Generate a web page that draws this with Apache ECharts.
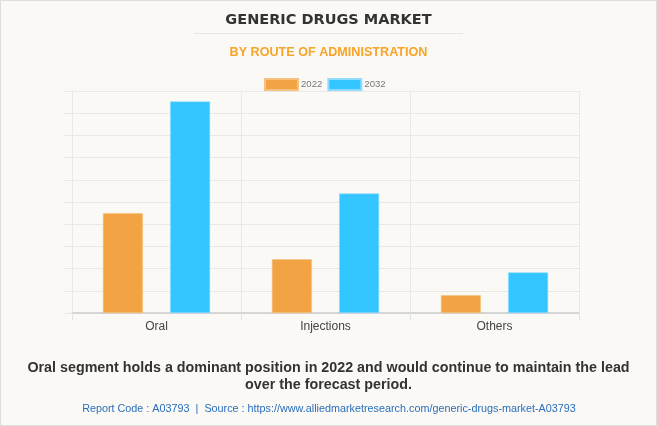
<!DOCTYPE html>
<html><head><meta charset="utf-8">
<script src="https://cdn.jsdelivr.net/npm/echarts@6/dist/echarts.min.js"></script>
<style>html,body{margin:0;padding:0;background:#faf9f5;}#c{width:657px;height:426px;}</style>
</head><body><div id="c"></div>
<script>
const categories = ['Oral', 'Injections', 'Others'];
const values2022 = [4.5, 2.42, 0.8];
const values2032 = [9.53, 5.38, 1.83];
const seriesNames = ['2022', '2032'];

const chart = echarts.init(document.getElementById('c'));
chart.setOption({
  backgroundColor: '#faf9f5',
  animation: false,
  title: [
    {text: 'GENERIC DRUGS MARKET', left: 'center', top: 8,
     textStyle: {fontFamily: 'DejaVu Sans', fontWeight: 'bold', fontSize: 14.5, color: '#333'}},
    {text: 'BY ROUTE OF ADMINISTRATION', left: 'center', top: 41,
     textStyle: {fontFamily: 'Liberation Sans', fontWeight: 'bold', fontSize: 12.6, color: '#f7a428'}}
  ],
  graphic: [
    {type: 'line', shape: {x1: 194, y1: 33.5, x2: 463, y2: 33.5}, style: {stroke: '#e6e6e6', lineWidth: 1}},
    {type: 'rect', shape: {x: 0.5, y: 0.5, width: 656, height: 425}, style: {fill: 'none', stroke: '#dddddd', lineWidth: 1}},
    {type: 'text', x: 328.5, y: 368, style: {text: 'Oral segment holds a dominant position in 2022 and would continue to maintain the lead',
      align: 'center', verticalAlign: 'middle', font: 'bold 14.3px "Liberation Sans"', fill: '#333'}},
    {type: 'text', x: 328.5, y: 385, style: {text: 'over the forecast period.',
      align: 'center', verticalAlign: 'middle', font: 'bold 14.3px "Liberation Sans"', fill: '#333'}},
    {type: 'text', x: 329, y: 409, style: {text: 'Report Code : A03793  |  Source : https://www.alliedmarketresearch.com/generic-drugs-market-A03793',
      align: 'center', verticalAlign: 'middle', font: '10.8px "Liberation Sans"', fill: '#2a6ebb'}}
  ],
  legend: {
    top: 73, left: 259, icon: 'rect', itemWidth: 33, itemHeight: 11, itemGap: 5,
    textStyle: {fontFamily: 'Liberation Sans', fontSize: 9.6, color: '#777', padding: [0, 0, 0, -2]},
    data: seriesNames
  },
  grid: {left: 72, right: 78, top: 91, bottom: 113},
  xAxis: {
    type: 'category', data: categories,
    axisLine: {lineStyle: {color: '#cccccc', width: 1.5}},
    axisTick: {show: true, length: 7, lineStyle: {color: '#e3e3e3'}},
    splitLine: {show: true, lineStyle: {color: '#e8e8e8'}},
    axisLabel: {fontFamily: 'Liberation Sans', fontSize: 12, color: '#444', margin: 8}
  },
  yAxis: {
    type: 'value', min: 0, max: 10, interval: 1,
    axisLabel: {show: false},
    axisLine: {show: false},
    axisTick: {show: true, length: 8, lineStyle: {color: '#e8e8e8'}},
    splitLine: {lineStyle: {color: '#e8e8e8'}}
  },
  series: [
    {name: seriesNames[0], type: 'bar', data: values2022, barWidth: 40, barGap: '68%',
     itemStyle: {color: '#f2a444', borderColor: '#f7c27f', borderWidth: 0.6}},
    {name: seriesNames[1], type: 'bar', data: values2032, barWidth: 40,
     itemStyle: {color: '#33c5ff', borderColor: '#8fdcff', borderWidth: 0.6}}
  ]
});
</script></body></html>
